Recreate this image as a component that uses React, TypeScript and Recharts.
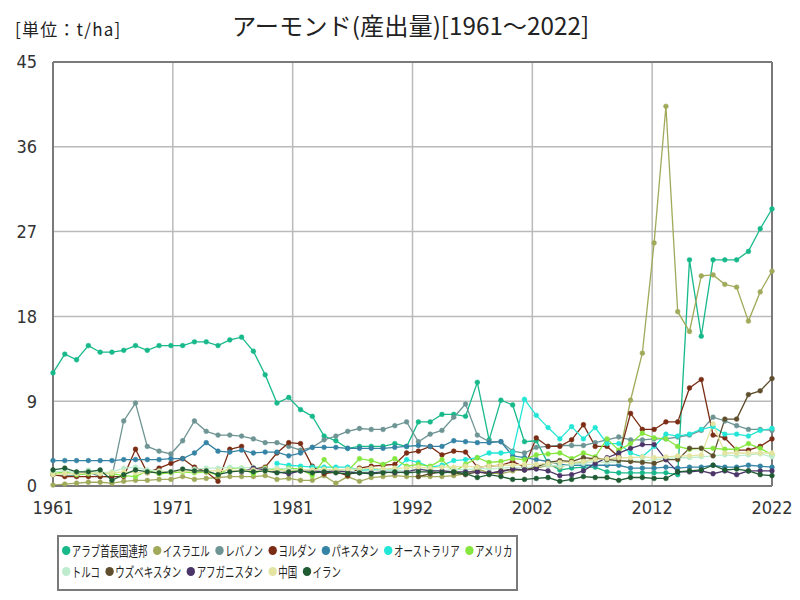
import React from "react";
import {
  CartesianGrid,
  Line,
  LineChart,
  ReferenceLine,
  XAxis,
  YAxis,
} from "recharts";

// 年
const YEARS = [
  1961, 1962, 1963, 1964, 1965, 1966, 1967, 1968, 1969, 1970,
  1971, 1972, 1973, 1974, 1975, 1976, 1977, 1978, 1979, 1980,
  1981, 1982, 1983, 1984, 1985, 1986, 1987, 1988, 1989, 1990,
  1991, 1992, 1993, 1994, 1995, 1996, 1997, 1998, 1999, 2000,
  2001, 2002, 2003, 2004, 2005, 2006, 2007, 2008, 2009, 2010,
  2011, 2012, 2013, 2014, 2015, 2016, 2017, 2018, 2019, 2020,
  2021, 2022,
];

const UAE = [
  12.0, 14.0, 13.4, 14.9, 14.2, 14.2, 14.4, 14.9, 14.4, 14.9,
  14.9, 14.9, 15.3, 15.3, 14.9, 15.5, 15.8, 14.3, 11.8, 8.8,
  9.4, 8.1, 7.4, 5.3, 4.8, 4.0, 4.2, 4.2, 4.2, 4.5,
  4.2, 6.8, 6.8, 7.6, 7.6, 7.4, 11.0, 4.9, 9.1, 8.6,
  4.7, 4.8, 2.4, 1.7, 1.9, 2.0, 2.0, 1.5, 1.4, 1.4,
  1.4, 1.4, 1.4, 1.2, 24.0, 15.9, 24.0, 24.0, 24.0, 24.9,
  27.3, 29.4,
];

const ISRAEL = [
  0.1, 0.2, 0.3, 0.4, 0.4, 0.3, 0.5, 0.6, 0.6, 0.7,
  0.7, 1.0, 0.7, 0.8, 0.9, 1.0, 1.0, 1.0, 1.1, 0.7,
  0.8, 0.6, 0.6, 1.1, 0.3, 1.0, 0.5, 0.9, 1.0, 1.1,
  1.0, 1.0, 1.0, 1.0, 1.1, 1.3, 1.8, 1.4, 1.3, 1.6,
  1.8, 1.9, 2.2, 2.0, 2.4, 2.5, 3.0, 2.8, 3.0, 9.1,
  14.1, 25.8, 40.3, 18.5, 16.4, 22.3, 22.4, 21.4, 21.1, 17.5,
  20.6, 22.8,
];

const LEBANON = [
  1.2, 1.1, 1.1, 1.5, 1.0, 1.0, 6.9, 8.8, 4.2, 3.7,
  3.4, 4.8, 6.9, 5.8, 5.4, 5.4, 5.3, 5.0, 4.6, 4.6,
  4.2, 3.8, 4.1, 4.9, 5.3, 5.8, 6.1, 6.0, 6.0, 6.4,
  6.8, 4.7, 5.5, 5.9, 7.3, 8.7, 5.4, 4.7, 4.7, 3.7,
  3.5, 4.1, 4.2, 4.3, 4.3, 4.3, 4.6, 4.9, 5.2, 4.9,
  4.9, 5.0, 5.0, 5.2, 5.4, 5.9, 7.3, 6.9, 6.4, 6.0,
  6.0, 5.9,
];

const JORDAN = [
  1.2, 1.0, 1.0, 1.0, 1.0, 1.0, 1.0, 3.9, 1.4, 1.9,
  2.4, 2.9, 2.0, 1.5, 0.5, 3.9, 4.2, 1.9, 2.0, 3.5,
  4.6, 4.5, 2.1, 1.3, 1.5, 1.1, 1.9, 2.1, 2.2, 2.3,
  3.5, 3.7, 4.2, 3.3, 3.7, 3.6, 2.0, 2.1, 2.2, 2.6,
  2.0, 5.1, 4.2, 4.2, 4.9, 6.5, 4.2, 4.2, 3.1, 7.7,
  6.0, 6.0, 6.8, 6.8, 10.4, 11.3, 5.4, 5.1, 3.8, 3.8,
  4.2, 5.0,
];

const PAKISTAN = [
  2.7, 2.7, 2.7, 2.7, 2.7, 2.7, 2.8, 2.8, 2.8, 2.8,
  2.9, 2.9, 3.5, 4.6, 3.7, 3.6, 3.8, 3.5, 3.6, 3.6,
  3.2, 3.5, 4.1, 4.1, 4.1, 4.0, 4.0, 4.0, 4.0, 4.1,
  4.2, 4.3, 4.2, 4.2, 4.8, 4.7, 4.6, 4.6, 4.7, 3.2,
  3.0, 2.8, 2.6, 2.3, 2.2, 2.2, 2.2, 2.2, 2.2, 1.9,
  1.9, 1.9, 2.0, 1.9, 2.0, 2.0, 2.2, 2.0, 2.0, 2.2,
  2.1, 2.0,
];

const AUSTRALIA = [
  null, null, null, null, null, null, null, null, null, null,
  null, null, null, null, null, null, null, null, null, 2.4,
  2.2, 2.1, 2.0, 2.0, 2.0, 2.0, 1.7, 1.7, 1.7, 1.7,
  2.8, 2.5, 2.0, 2.2, 2.7, 2.8, 3.0, 3.5, 3.5, 3.6,
  9.2, 7.5, 6.2, 5.0, 6.3, 5.0, 6.2, 4.5, 4.5, 3.5,
  3.1, 4.2, 5.5, 5.3, 5.5, 6.0, 6.3, 5.5, 5.5, 5.3,
  5.9, 6.1,
];

const USA = [
  1.3, 1.5, 1.2, 1.3, 1.4, 1.3, 1.1, 1.0, 1.6, 1.3,
  1.4, 1.5, 1.4, 1.5, 1.2, 1.9, 1.9, 1.3, 1.9, 1.7,
  1.9, 1.8, 1.1, 2.8, 1.6, 1.6, 2.9, 2.7, 2.3, 2.9,
  2.1, 2.3, 2.1, 2.8, 1.5, 2.3, 3.0, 2.5, 2.6, 2.9,
  2.8, 3.3, 3.4, 3.5, 2.9, 3.5, 3.1, 5.0, 3.8, 4.5,
  5.6, 5.1, 5.0, 4.2, 3.9, 4.0, 4.0, 3.9, 3.9, 4.5,
  4.0, 3.3,
];

const TURKEY = [
  1.5, 1.6, 1.4, 1.7, 1.4, 1.5, 1.9, 2.0, 1.7, 1.6,
  1.5, 1.7, 1.8, 1.9, 1.9, 2.0, 1.9, 2.0, 1.8, 1.9,
  1.8, 1.6, 1.7, 1.6, 1.7, 1.6, 1.5, 1.6, 1.7, 1.7,
  1.6, 1.8, 1.7, 1.6, 1.8, 1.7, 1.9, 1.8, 1.9, 2.0,
  1.9, 2.1, 2.2, 2.1, 2.3, 2.4, 2.6, 2.5, 2.6, 2.7,
  2.6, 2.8, 2.9, 3.0, 3.0, 3.1, 3.2, 3.3, 3.2, 3.3,
  3.4, 3.1,
];

const UZBEKISTAN = [
  null, null, null, null, null, null, null, null, null, null,
  null, null, null, null, null, null, null, null, null, null,
  null, null, null, null, null, null, null, null, null, null,
  null, 1.0, 1.3, 1.5, 1.4, 1.2, 1.5, 1.3, 1.6, 1.8,
  1.7, 2.0, 2.5, 2.7, 2.6, 3.0, 2.9, 2.8, 2.7, 2.6,
  2.5, 2.4, 2.8, 2.8, 4.0, 4.0, 3.2, 7.1, 7.1, 9.7,
  10.1, 11.4,
];

const AFGHANISTAN = [
  null, null, null, null, null, null, null, null, null, null,
  null, null, null, null, null, null, 1.5, 1.9, 1.7, 1.5,
  1.3, 1.6, 1.6, 1.5, 1.6, 1.5, 1.4, 1.4, 1.5, 1.4,
  1.5, 1.8, 1.6, 1.6, 1.5, 1.5, 1.5, 1.4, 1.5, 1.8,
  1.7, 1.8, 1.6, 1.1, 1.2, 1.6, 2.4, 3.0, 3.5, 4.0,
  4.4, 4.4, 2.8, 1.5, 1.5, 1.6, 1.3, 1.6, 1.2, 1.6,
  1.6, 1.6,
];

const CHINA = [
  1.2, 1.3, 1.3, 1.4, 1.3, 1.4, 1.5, 1.4, 1.4, 1.5,
  1.5, 1.6, 1.5, 1.6, 1.6, 1.7, 1.6, 1.7, 1.6, 1.7,
  1.6, 1.7, 1.7, 1.8, 1.7, 1.8, 1.8, 1.9, 1.8, 1.9,
  1.9, 2.0, 1.9, 2.0, 2.0, 2.1, 2.0, 2.1, 2.2, 2.2,
  2.3, 2.3, 2.4, 2.5, 2.5, 2.6, 2.8, 2.9, 3.0, 3.0,
  3.1, 3.0, 3.1, 3.2, 3.2, 3.3, 6.6, 3.5, 3.5, 3.5,
  3.5, 3.5,
];

const IRAN = [
  1.7, 1.9, 1.5, 1.5, 1.7, 0.6, 1.2, 1.7, 1.5, 1.4,
  1.5, 1.8, 1.6, 1.6, 1.2, 1.5, 1.6, 1.5, 1.6, 1.4,
  1.5, 1.6, 1.4, 1.5, 1.4, 1.3, 1.4, 1.3, 1.4, 1.5,
  1.4, 1.5, 1.5, 1.4, 1.5, 1.3, 0.9, 1.2, 1.0, 0.7,
  0.7, 0.8, 0.9, 0.5, 0.7, 1.0, 0.9, 0.9, 0.6, 0.9,
  0.9, 0.8, 0.8, 1.5, 1.6, 1.7, 2.2, 1.7, 1.8, 1.6,
  1.2, 1.1,
];

const SERIES = [
  { key: "uae", name: "アラブ首長国連邦", color: "#17b98a", values: UAE },
  { key: "isr", name: "イスラエル", color: "#a1aa5a", values: ISRAEL },
  { key: "lbn", name: "レバノン", color: "#6e9494", values: LEBANON },
  { key: "jor", name: "ヨルダン", color: "#7a2d14", values: JORDAN },
  { key: "pak", name: "パキスタン", color: "#3583a5", values: PAKISTAN },
  { key: "aus", name: "オーストラリア", color: "#22e6d6", values: AUSTRALIA },
  { key: "usa", name: "アメリカ", color: "#86e640", values: USA },
  { key: "tur", name: "トルコ", color: "#bdeccd", values: TURKEY },
  { key: "uzb", name: "ウズベキスタン", color: "#5e4e2c", values: UZBEKISTAN },
  { key: "afg", name: "アフガニスタン", color: "#4a3468", values: AFGHANISTAN },
  { key: "chn", name: "中国", color: "#e4e4a2", values: CHINA },
  { key: "irn", name: "イラン", color: "#1f5b33", values: IRAN },
];

const Y_TICKS = [0, 9, 18, 27, 36, 45];
// 横軸は 6 等分、ラベルは四捨五入した年
const X_TICKS = [0, 1, 2, 3, 4, 5, 6].map((i) => 1961 + (61 * i) / 6);

const rows = YEARS.map((year, i) => {
  const row: Record<string, number | null> = { year };
  SERIES.forEach((s) => {
    row[s.key] = s.values[i];
  });
  return row;
});

const NARROW = "'Liberation Sans Narrow', 'DejaVu Sans Condensed', 'Noto Sans CJK JP', sans-serif";
const JP = "'Noto Sans CJK JP', sans-serif";

export default function App() {
  return (
    <div
      style={{
        position: "absolute",
        left: 0,
        top: 0,
        width: 800,
        height: 600,
        background: "#fff",
        color: "#222",
      }}
    >
      <div
        style={{
          position: "absolute",
          left: 15,
          top: 16,
          fontFamily: JP,
          fontSize: 17,
          letterSpacing: 1.2,
          whiteSpace: "nowrap",
        }}
      >
        [単位：t/ha]
      </div>
      <div
        style={{
          position: "absolute",
          left: 232,
          top: 7,
          fontFamily: JP,
          fontSize: 24,
          transformOrigin: "0 0",
          transform: "scaleX(1.01)",
          whiteSpace: "nowrap",
        }}
      >
        アーモンド(産出量)[1961～2022]
      </div>

      <LineChart
        width={800}
        height={600}
        data={rows}
        margin={{ top: 62, right: 28, left: 13, bottom: 84 }}
      >
        <CartesianGrid stroke="#bababa" strokeWidth={1.5} />
        <XAxis
          dataKey="year"
          type="number"
          domain={[1961, 2022]}
          ticks={X_TICKS}
          tickFormatter={(v) => String(Math.round(v))}
          tickLine={false}
          axisLine={{ stroke: "#7a7a7a", strokeWidth: 2 }}
          tick={{ fontSize: 18, fill: "#333", fontFamily: NARROW }}
          tickMargin={9}
          height={30}
        />
        <YAxis
          domain={[0, 45]}
          ticks={Y_TICKS}
          tickLine={false}
          axisLine={{ stroke: "#7a7a7a", strokeWidth: 2 }}
          tick={{ fontSize: 18, fill: "#333", fontFamily: NARROW }}
          tickMargin={10}
          width={40}
        />
        <ReferenceLine y={45} stroke="#7a7a7a" strokeWidth={2} />
        <ReferenceLine x={2022} stroke="#7a7a7a" strokeWidth={2} />
        {SERIES.map((s) => (
          <Line
            key={s.key}
            dataKey={s.key}
            name={s.name}
            type="linear"
            stroke={s.color}
            strokeWidth={1.3}
            dot={{ r: 2.4, fill: s.color, stroke: s.color, strokeWidth: 0.5 }}
            activeDot={false}
            isAnimationActive={false}
          />
        ))}
      </LineChart>

      <div
        style={{
          position: "absolute",
          left: 57,
          top: 535,
          width: 461,
          height: 56,
          border: "2px solid #7a7a7a",
          boxSizing: "border-box",
        }}
      />
      <div
        style={{
          position: "absolute",
          left: 62,
          top: 541,
          width: 680,
          display: "flex",
          flexWrap: "wrap",
          rowGap: 3,
          fontFamily: JP,
          fontSize: 13.5,
          lineHeight: "18px",
          transformOrigin: "0 0",
          transform: "scaleX(0.7)",
          color: "#222",
        }}
      >
        {SERIES.map((s) => (
          <span
            key={s.key}
            style={{ display: "inline-flex", alignItems: "center", marginRight: 8 }}
          >
            <span
              style={{
                display: "inline-block",
                width: 12,
                height: 9,
                borderRadius: "50%",
                background: s.color,
                marginRight: 2,
              }}
            />
            {s.name}
          </span>
        ))}
      </div>
    </div>
  );
}
